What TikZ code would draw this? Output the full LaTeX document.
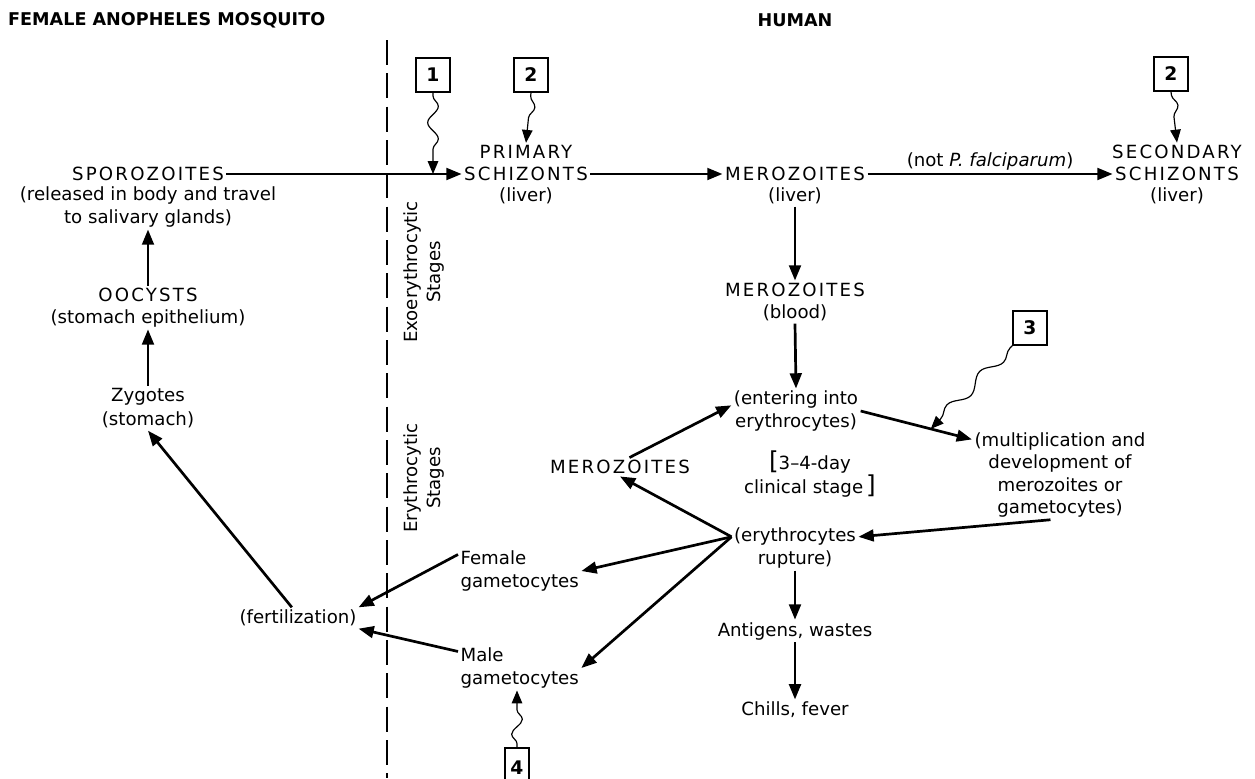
\documentclass[tikz,border=0pt]{standalone}
\usepackage{fontspec}
\setmainfont{DejaVu Sans}
\newfontfamily\capsfont[LetterSpace=12]{DejaVu Sans}
\usetikzlibrary{arrows.meta, positioning, calc, decorations.pathmorphing}
\tikzset{
  lbl/.style={align=center, inner sep=2pt, font=\fontsize{15.5}{19}\selectfont},
  caps/.style={lbl, font=\capsfont\fontsize{15.5}{19}\selectfont},
  hdr/.style={inner sep=0pt, font=\bfseries\fontsize{15}{17}\selectfont},
  numbox/.style={draw, line width=1.8pt, minimum width=1.0cm, minimum height=1.0cm,
    inner sep=0pt, font=\bfseries\fontsize{16}{17}\selectfont},
  arrow/.style={-{Triangle[length=13pt,width=10pt]}, line width=2.3pt},
  wavy/.style={-{Triangle[length=11pt,width=9pt]}, line width=1pt, decorate,
    decoration={snake, amplitude=1.6mm, segment length=#1, pre length=1mm, post length=3.5mm}},
  wavy/.default=10mm,
  divider/.style={line width=1.3pt, dash pattern=on 0.75cm off 0.25cm}
}
\begin{document}
\begin{tikzpicture}[x=0.03cm, y=-0.03cm]
  \useasboundingbox (0,0) rectangle (1255,778);

  % headers and divider
  \node[hdr, anchor=west] (hdrmos) at (8,20) {FEMALE ANOPHELES MOSQUITO};
  \node[hdr] (hdrhum) at (795,20) {HUMAN};
  \draw[divider] (387,40) -- (387,778);
  \node[lbl, rotate=90] (exo) at (424,272) {Exoerythrocytic\\Stages};
  \node[lbl, rotate=90] (ery) at (424,478) {Erythrocytic\\Stages};

  % mosquito side
  \node[caps] (spor) at (148,174) {SPOROZOITES};
  \node[lbl] (sporinfo) at (148,207) {(released in body and travel\\to salivary glands)};
  \node[caps] (oocyst) at (148,295) {OOCYSTS};
  \node[lbl] (oocystinfo) at (148,318) {(stomach epithelium)};
  \node[lbl] (zyg) at (148,397) {Zygotes};
  \node[lbl] (zyginfo) at (148,420) {(stomach)};
  \node[lbl] (fert) at (298,618) {(fertilization)};

  % liver stages
  \node[caps] (primA) at (526,152) {PRIMARY};
  \node[caps] (primB) at (526,174) {SCHIZONTS};
  \node[lbl] (primliv) at (526,196) {(liver)};
  \node[caps] (merliv) at (795,174) {MEROZOITES};
  \node[lbl] (merlivinfo) at (795,196) {(liver)};
  \node[caps] (secA) at (1177,152) {SECONDARY};
  \node[caps] (secB) at (1177,174) {SCHIZONTS};
  \node[lbl] (secliv) at (1177,196) {(liver)};

  % blood stages
  \node[caps] (merblood) at (795,290) {MEROZOITES};
  \node[lbl] (merbloodinfo) at (795,313) {(blood)};
  \node[lbl] (enter) at (796,411) {(entering into\\erythrocytes)};
  \node[lbl] (mult) at (1060,475) {(multiplication and\\development of\\merozoites or\\gametocytes)};
  \node[lbl] (clin) at (810,474) {{\fontsize{21}{19}\selectfont[}3--4-day\\clinical stage\,{\fontsize{21}{19}\selectfont]}};
  \node[caps] (merleft) at (620,467) {MEROZOITES};
  \node[lbl] (rupt) at (795,548) {(erythrocytes\\rupture)};
  \node[lbl, align=left, anchor=west] (female) at (458,571) {Female\\gametocytes};
  \node[lbl, align=left, anchor=west] (male) at (458,668) {Male\\gametocytes};
  \node[lbl] (antig) at (795,631) {Antigens, wastes};
  \node[lbl] (chills) at (795,710) {Chills, fever};

  % numbered boxes
  \node[numbox] (box1) at (433,75) {1};
  \node[numbox] (box2a) at (531,75) {2};
  \node[numbox] (box2b) at (1171,74) {2};
  \node[numbox] (box3) at (1030,328) {3};
  \node[numbox, minimum width=0.72cm, minimum height=1.2cm] (box4) at (517,768) {4};

  % connectors
  \draw[arrow] (spor.east) -- (primB.west);
  \draw[arrow] (primB.east) -- (merliv.west);
  \draw[arrow] (merliv.east) -- node[lbl, above] (notpf) {(not \textit{P. falciparum})} (secB.west);
  \draw[arrow] (merlivinfo.south) -- (merblood.north);
  \draw[arrow] (merbloodinfo.south) -- (enter.north);
  \draw[arrow] (enter.east) -- coordinate[pos=0.63] (hit3) (mult.158);
  \draw[arrow] (mult.258) -- (rupt.10);
  \draw[arrow] (rupt.170) -- (merleft.south);
  \draw[arrow] (merleft.45) -- (enter.175);
  \draw[arrow] (rupt.170) -- (female.east);
  \draw[arrow] (rupt.170) -- (male.east);
  \draw[arrow] (female.165) -- (fert.10);
  \draw[arrow] (male.165) -- (fert.-10);
  \draw[arrow] (fert.120) -- (zyginfo.south);
  \draw[arrow] (zyg.north) -- (oocystinfo.south);
  \draw[arrow] (oocyst.north) -- (sporinfo.south);
  \draw[arrow] (rupt.south) -- (antig.north);
  \draw[arrow] (antig.south) -- (chills.north);

  % wavy pointers
  \draw[wavy=9.8mm] (box1.south) -- (box1.south |- primB.west);
  \draw[wavy=10.5mm] (box2a.south) -- (primA.north);
  \draw[wavy=10.5mm] (box2b.south) -- (secA.north);
  \draw[wavy=14mm] (box3.south west) -- (hit3);
  \draw[wavy=9mm] (box4.north) -- (box4.north |- male.south);
\end{tikzpicture}
\end{document}
